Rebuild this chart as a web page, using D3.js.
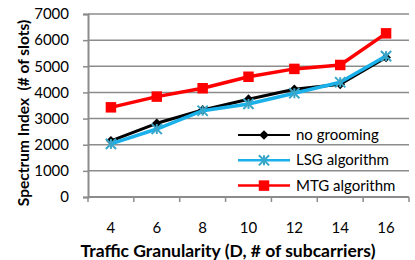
<!DOCTYPE html>
<html>
<head>
<meta charset="utf-8">
<script src="https://cdn.jsdelivr.net/npm/d3@7"></script>
<style>
  body { margin: 0; background: #fff; }
  svg { font-family: Lato, "Open Sans", sans-serif; }
</style>
</head>
<body>
<svg id="chart" width="415" height="260"></svg>
<script>
const granularity = [4, 6, 8, 10, 12, 14, 16]
const noGrooming = [2150, 2820, 3330, 3740, 4120, 4310, 5340]
const lsg = [2030, 2600, 3300, 3560, 3970, 4390, 5390]
const mtg = [3430, 3840, 4160, 4600, 4900, 5050, 6260]
const yTicks = [0, 1000, 2000, 3000, 4000, 5000, 6000, 7000]

const series = [
  { name: "no grooming", values: noGrooming, color: "#000000", width: 3, symbol: "diamond" },
  { name: "LSG algorithm", values: lsg, color: "#1ab0ea", width: 3.5, symbol: "asterisk" },
  { name: "MTG algorithm", values: mtg, color: "#ff0000", width: 3.5, symbol: "square" }
]

function draw () {
  const svg = d3.select('#chart')
  const left = 88, right = 409, top = 14, bottom = 197
  const gridColor = "#8c8c8c"

  const xScale = d3.scaleBand().domain(granularity).range([left, right])
  const yScale = d3.scaleLinear().domain([0, 7000]).range([bottom, top])

  // gridlines
  svg.append('g')
    .selectAll('line')
    .data(yTicks.filter(d => d > 0))
    .join('line')
    .attr('x1', left).attr('x2', right)
    .attr('y1', d => yScale(d)).attr('y2', d => yScale(d))
    .attr('stroke', gridColor).attr('stroke-width', 1.5)

  // y axis
  const yAxis = svg.append('g')
    .attr('transform', `translate(${left}, 0)`)
    .call(d3.axisLeft(yScale).tickValues(yTicks).tickFormat(d3.format('d')).tickSize(5).tickPadding(14))
  yAxis.select('.domain').attr('stroke', gridColor).attr('stroke-width', 2)
  yAxis.selectAll('.tick line').attr('stroke', gridColor).attr('stroke-width', 1.5)
  yAxis.selectAll('.tick text').attr('font-size', 15).attr('fill', '#000').attr('font-family', 'Lato')

  // x axis with ticks at category boundaries
  const xAxis = svg.append('g')
    .attr('transform', `translate(0, ${bottom})`)
  xAxis.append('line')
    .attr('x1', left).attr('x2', right)
    .attr('stroke', gridColor).attr('stroke-width', 2)
  const bounds = granularity.map(d => xScale(d)).concat([xScale(granularity[granularity.length - 1]) + xScale.bandwidth()])
  xAxis.selectAll('.bt')
    .data(bounds)
    .join('line')
    .attr('x1', d => d).attr('x2', d => d)
    .attr('y1', 0).attr('y2', 5)
    .attr('stroke', gridColor).attr('stroke-width', 1.5)
  xAxis.selectAll('.lbl')
    .data(granularity)
    .join('text')
    .attr('x', d => xScale(d) + xScale.bandwidth() / 2)
    .attr('y', 36)
    .attr('text-anchor', 'middle')
    .attr('font-size', 15)
    .text(d => d)

  // axis titles
  svg.append('text')
    .attr('x', 228)
    .attr('y', 257)
    .attr('text-anchor', 'middle')
    .attr('font-size', 17.5)
    .attr('font-weight', 'bold')
    .text('Traffic Granularity (D, # of subcarriers)')

  svg.append('text')
    .attr('transform', `translate(29, 113) rotate(-90)`)
    .attr('text-anchor', 'middle')
    .attr('font-size', 15.5)
    .attr('font-weight', 'bold')
    .style('white-space', 'pre')
    .text('Spectrum Index  (# of slots)')

  const cx = d => xScale(d) + xScale.bandwidth() / 2
  const line = d3.line().x((d, i) => cx(granularity[i])).y(d => yScale(d))

  const drawMarker = (g, s, x, y) => {
    if (s.symbol === 'diamond') {
      g.append('path')
        .attr('d', d3.symbol().type(d3.symbolDiamond2).size(60)())
        .attr('transform', `translate(${x},${y})`)
        .attr('fill', s.color)
    } else if (s.symbol === 'square') {
      g.append('path')
        .attr('d', d3.symbol().type(d3.symbolSquare).size(110)())
        .attr('transform', `translate(${x},${y})`)
        .attr('fill', s.color)
    } else {
      g.append('path')
        .attr('d', d3.symbol().type(d3.symbolTimes).size(70)())
        .attr('transform', `translate(${x},${y})`)
        .attr('stroke', '#3aa6c8').attr('stroke-width', 2)
      g.append('path')
        .attr('d', 'M0,-5V5')
        .attr('transform', `translate(${x},${y})`)
        .attr('stroke', '#3aa6c8').attr('stroke-width', 2)
    }
  }

  const order = [series[2], series[0], series[1]]
  order.forEach(s => {
    const g = svg.append('g')
    g.append('path')
      .datum(s.values)
      .attr('d', line)
      .attr('fill', 'none')
      .attr('stroke', s.color)
      .attr('stroke-width', s.width)
      .attr('stroke-linejoin', 'round')
    s.values.forEach((v, i) => drawMarker(g, s, cx(granularity[i]), yScale(v)))
  })

  // legend
  const legend = svg.append('g')
  series.forEach((s, i) => {
    const y = 135 + i * 25.3
    const g = legend.append('g')
    g.append('line')
      .attr('x1', 238).attr('x2', 290)
      .attr('y1', y).attr('y2', y)
      .attr('stroke', s.color).attr('stroke-width', s.width - 1)
    drawMarker(g, s, 264, y)
    g.append('text')
      .attr('x', 296).attr('y', y + 5)
      .attr('font-size', 15)
      .text(s.name)
  })
}

draw()
</script>
</body>
</html>
